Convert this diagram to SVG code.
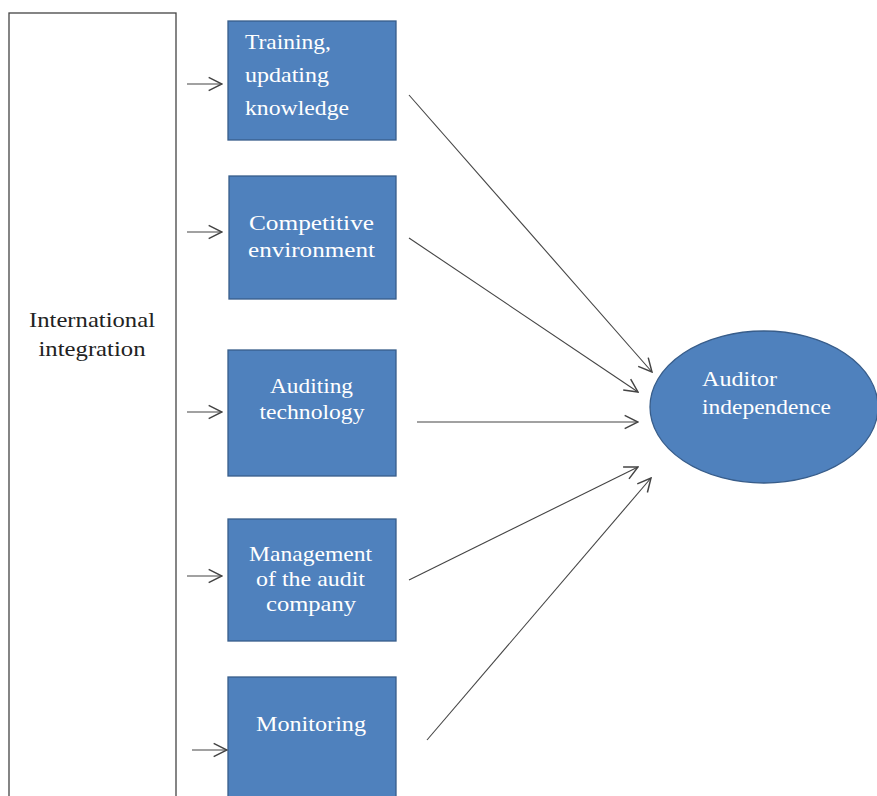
<svg xmlns="http://www.w3.org/2000/svg" width="877" height="796" viewBox="0 0 877 796">
<style>
.box{fill:#4f81bd;stroke:#385d8a;stroke-width:1.3}
.t{font-family:'Liberation Serif',serif;font-size:22px;fill:#fff}
.c{text-anchor:middle}
.k{fill:#222}
.ln{stroke:#444;stroke-width:1.1;fill:none;marker-end:url(#ah)}
</style>
<defs>
<marker id="ah" viewBox="0 0 12 12" refX="11" refY="6" markerWidth="16" markerHeight="16" markerUnits="userSpaceOnUse" orient="auto">
<path d="M1,1 L11,6 L1,11" fill="none" stroke="#444" stroke-width="1.1"/>
</marker>
</defs>
<g id="intl">
<rect x="9" y="13" width="167" height="800" fill="#fff" stroke="#444" stroke-width="1.3"/>
<text class="t c k" x="92" y="327" textLength="126" lengthAdjust="spacingAndGlyphs">International</text>
<text class="t c k" x="92" y="356" textLength="107" lengthAdjust="spacingAndGlyphs">integration</text>
</g>
<g id="training">
<rect class="box" x="228" y="21" width="168" height="119"/>
<text class="t" x="245" y="49" textLength="86" lengthAdjust="spacingAndGlyphs">Training,</text>
<text class="t" x="245" y="82" textLength="84" lengthAdjust="spacingAndGlyphs">updating</text>
<text class="t" x="245" y="115" textLength="104" lengthAdjust="spacingAndGlyphs">knowledge</text>
</g>
<g id="competitive">
<rect class="box" x="229" y="176" width="167" height="123"/>
<text class="t c" x="311.5" y="230" textLength="125" lengthAdjust="spacingAndGlyphs">Competitive</text>
<text class="t c" x="311.5" y="257" textLength="127" lengthAdjust="spacingAndGlyphs">environment</text>
</g>
<g id="technology">
<rect class="box" x="228" y="350" width="168" height="126"/>
<text class="t c" x="311.5" y="393" textLength="83" lengthAdjust="spacingAndGlyphs">Auditing</text>
<text class="t c" x="312" y="419" textLength="105" lengthAdjust="spacingAndGlyphs">technology</text>
</g>
<g id="management">
<rect class="box" x="228" y="519" width="168" height="122"/>
<text class="t c" x="310.5" y="561" textLength="123" lengthAdjust="spacingAndGlyphs">Management</text>
<text class="t c" x="310.5" y="586" textLength="109" lengthAdjust="spacingAndGlyphs">of the audit</text>
<text class="t c" x="311" y="611" textLength="90" lengthAdjust="spacingAndGlyphs">company</text>
</g>
<g id="monitoring">
<rect class="box" x="228" y="677" width="168" height="130"/>
<text class="t c" x="311" y="731" textLength="110" lengthAdjust="spacingAndGlyphs">Monitoring</text>
</g>
<g id="independence">
<ellipse class="box" cx="764" cy="407" rx="114" ry="76"/>
<text class="t" x="702" y="386" textLength="75" lengthAdjust="spacingAndGlyphs">Auditor</text>
<text class="t" x="702" y="414" textLength="129" lengthAdjust="spacingAndGlyphs">independence</text>
</g>
<g id="connectors">
<line class="ln" x1="187" y1="84" x2="222" y2="84"/>
<line class="ln" x1="187" y1="232" x2="222" y2="232"/>
<line class="ln" x1="187" y1="412" x2="222" y2="412"/>
<line class="ln" x1="187" y1="576" x2="222" y2="576"/>
<line class="ln" x1="192" y1="750" x2="227" y2="750"/>
<line class="ln" x1="409" y1="95" x2="652" y2="372"/>
<line class="ln" x1="409" y1="238" x2="638" y2="392"/>
<line class="ln" x1="417" y1="422" x2="638" y2="422"/>
<line class="ln" x1="409" y1="580" x2="638" y2="467"/>
<line class="ln" x1="427" y1="740" x2="651" y2="478"/>
</g>
</svg>
